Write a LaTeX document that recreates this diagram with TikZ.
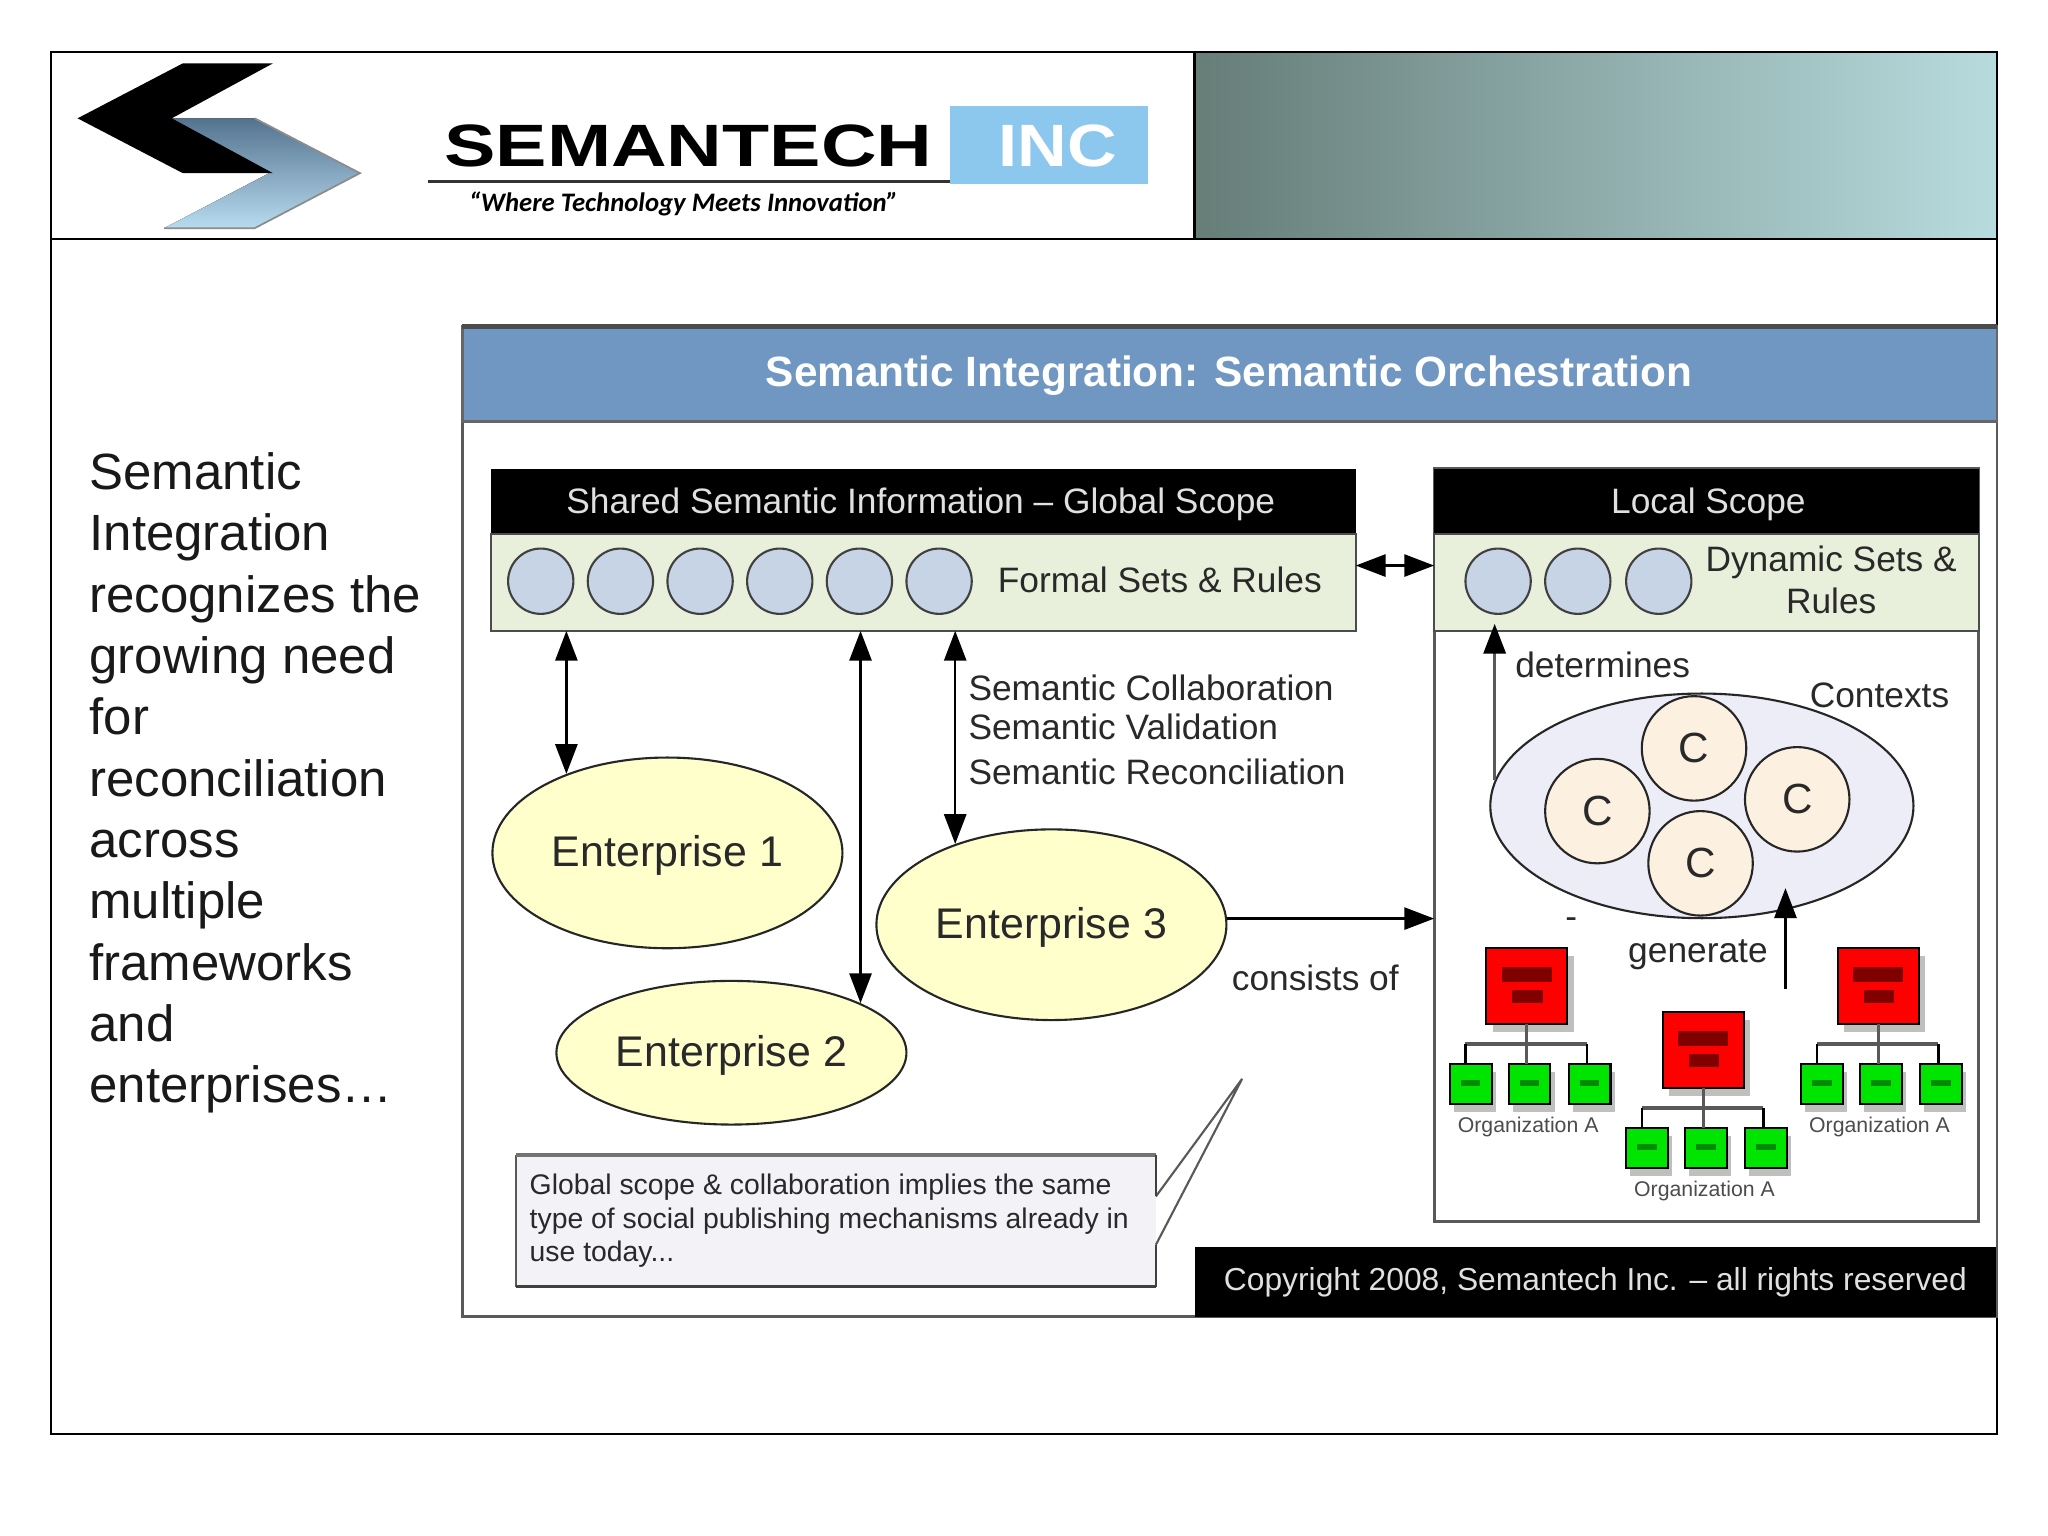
\documentclass[tikz,border=0pt]{standalone}
\usepackage{fontspec}
\setmainfont{Liberation Sans}
\newfontfamily\logofont[FakeStretch=1.29]{Liberation Sans}
\newfontfamily\incfont[FakeStretch=1.15]{Liberation Sans}
\newfontfamily\tagfont{Carlito}
\usetikzlibrary{arrows.meta}
\usetikzlibrary{shadows}
\usetikzlibrary{shapes.geometric}
\def\un{0.013061cm}
\definecolor{titleblue}{rgb}{0.44,0.59,0.76}
\definecolor{stripgreen}{rgb}{0.91,0.94,0.86}
\definecolor{circleblue}{rgb}{0.78,0.83,0.90}
\definecolor{entyellow}{rgb}{1,1,0.80}
\definecolor{ctxlilac}{rgb}{0.93,0.93,0.97}
\definecolor{ctxpeach}{rgb}{0.99,0.94,0.88}
\definecolor{notegray}{rgb}{0.95,0.95,0.97}
\definecolor{txtgray}{rgb}{0.16,0.16,0.16}
\definecolor{bannerl}{rgb}{0.40,0.49,0.47}
\definecolor{bannerm}{rgb}{0.55,0.65,0.67}
\definecolor{bannerr}{rgb}{0.72,0.86,0.87}
\definecolor{logodark}{rgb}{0.33,0.45,0.56}
\definecolor{logolight}{rgb}{0.72,0.86,0.94}
\definecolor{incblue}{rgb}{0.55,0.78,0.93}
\tikzset{
  plainbox/.style={rectangle,inner sep=0pt,outer sep=0pt},
  blackbar/.style={plainbox,fill=black,text=white!88!black,text depth=0pt,font=\fontsize{10.05}{11}\selectfont},
  stripbox/.style={plainbox,fill=stripgreen,draw=black!70,line width=0.7pt},
  setcircle/.style={circle,draw=black!75,fill=circleblue,line width=0.6pt,minimum size=50*\un,inner sep=0pt},
  entnode/.style={ellipse,draw=black!85,fill=entyellow,line width=0.6pt,minimum width=268*\un,inner sep=0pt,text=txtgray,text depth=0.1em,font=\fontsize{12.2}{14}\selectfont},
  ctxnode/.style={circle,draw=black!85,fill=ctxpeach,line width=0.6pt,minimum size=80*\un,inner sep=0pt,text=txtgray,font=\fontsize{12}{14}\selectfont},
  label/.style={inner sep=0pt,text=txtgray,font=\fontsize{10.05}{11.5}\selectfont},
  redbox/.style={plainbox,fill=red,draw=black,line width=0.6pt,minimum width=62*\un,minimum height=58*\un,
    drop shadow={shadow xshift=1.8pt,shadow yshift=-2.3pt,fill=black!25,opacity=1}},
  greenbox/.style={plainbox,fill=green!90!black,draw=black,line width=0.6pt,minimum width=32*\un,minimum height=31*\un,
    drop shadow={shadow xshift=1.2pt,shadow yshift=-2.3pt,fill=black!25,opacity=1}},
  orglabel/.style={inner sep=0pt,text=black!70,font=\fontsize{6.05}{7}\selectfont},
  link/.style={line width=0.7pt,<->},
  >={Triangle[length=8.5pt,width=6.3pt]}
}
\begin{document}
\begin{tikzpicture}[x=0.013061cm,y=-0.013061cm]
  \useasboundingbox (0,0) rectangle (1568,1176);
  \fill[white] (0,0) rectangle (1568,1176);

  % slide frame and banner
  \fill[left color=bannerl,middle color=bannerm,right color=bannerr] (915,40) rectangle (1529,183);
  \node[plainbox,draw=black,line width=0.7pt,minimum width=1490*\un,minimum height=1058*\un] (slide) at (784,569) {};
  \draw[line width=0.7pt] (39,183) -- (1529,183);
  \draw[line width=0.7pt] (914.5,40) -- (914.5,183);

  % logo
  \fill[top color=logodark,bottom color=logolight] (131.5,90.6) -- (195,90.6) -- (275.6,132.6) -- (195,174.7) -- (125.7,174.7) -- (206,132.6) -- cycle;
  \draw[black!45,line width=0.5pt] (195,90.6) -- (275.6,132.6) -- (195,174.7) -- (125.7,174.7);
  \fill[black] (140,48.5) -- (209,48.5) -- (131.5,90.6) -- (209,132.6) -- (140,132.6) -- (59.4,90.6) -- cycle;
  \node[inner sep=0pt] (brand) at (527,112) {\logofont\bfseries\fontsize{17}{20}\selectfont SEMANTECH};
  \node[plainbox,fill=incblue,minimum width=152*\un,minimum height=60*\un] (inc) at (803,111) {};
  \node[inner sep=0pt,text=white,font=\incfont\bfseries\fontsize{17}{20}\selectfont] (inctext) at (810,112) {INC};
  \draw[black!80,line width=0.7pt] (328,139) -- (inc.west |- 328,139);
  \node[inner sep=0pt,font=\tagfont\itshape\bfseries\fontsize{7.6}{9}\selectfont] (tagline) at (523.5,156) {“Where Technology Meets Innovation”};

  % left text
  \node[inner sep=0pt,anchor=north west,align=left,font=\fontsize{14.5}{17.45}\selectfont,text=black!90] (intro) at (68,346) {Semantic\\Integration\\recognizes the\\growing need\\for\\reconciliation\\across\\multiple\\frameworks\\and\\enterprises…};

  % panel
  \node[plainbox,draw=black!65,line width=0.8pt,minimum width=1175*\un,minimum height=758*\un] (panel) at (941.5,629) {};
  \node[plainbox,fill=titleblue,draw=black!60,line width=0.8pt,minimum width=1175*\un,minimum height=73*\un] (title) at (941.5,286.5) {};
  \node[inner sep=0pt,text=white,text depth=0pt,font=\bfseries\fontsize{12.05}{14}\selectfont] (titletext) at (941,284.5) {Semantic Integration: Semantic Orchestration};
  \draw[black!70,line width=1.2pt] (title.north west) -- (title.north east);
  \node[plainbox,fill=black,minimum width=613*\un,minimum height=53*\un,text=white!88!black,font=\fontsize{9.04}{11}\selectfont] (copyright) at (1221.5,981.5) {Copyright 2008, Semantech Inc. – all rights reserved};

  % global scope
  \node[blackbar,minimum width=662*\un,minimum height=50*\un] (globalhead) at (707,384) {};
  \node[inner sep=0pt,text=white!88!black,text depth=0pt,font=\fontsize{10.05}{11}\selectfont] (globaltext) at (705,383.5) {Shared Semantic Information – Global Scope};
  \node[stripbox,minimum width=662*\un,minimum height=74*\un] (formal) at (707,446) {};
  \foreach \cx in {414,475,536,597,658,719}
    \node[setcircle] (s\cx) at (\cx,445) {};
  \node[label] (formaltext) at (888,444) {Formal Sets \& Rules};

  % local scope
  \node[plainbox,draw=black!65,line width=0.8pt,minimum width=417*\un,minimum height=576*\un] (localbox) at (1306.5,647) {};
  \node[blackbar,minimum width=417*\un,minimum height=50*\un] (localhead) at (1306.5,384) {};
  \node[inner sep=0pt,text=white!88!black,text depth=0pt,font=\fontsize{10.05}{11}\selectfont] (localtext) at (1308,383.5) {Local Scope};
  \node[stripbox,minimum width=417*\un,minimum height=74*\un] (dynamic) at (1306.5,446) {};
  \foreach \cx in {1147,1208,1270}
    \node[setcircle] (d\cx) at (\cx,445) {};
  \node[label,align=center,font=\fontsize{10.05}{11.9}\selectfont] (dyntext) at (1402,444) {Dynamic Sets \&\\Rules};

  % enterprises
  \node[entnode,minimum height=146*\un] (ent1) at (511,653) {Enterprise 1};
  \node[entnode,minimum height=110*\un] (ent2) at (560,806) {Enterprise 2};
  \node[entnode,minimum height=146*\un] (ent3) at (805,708) {Enterprise 3};

  \draw[link] (formal.south -| ent1.142) -- (ent1.142);
  \draw[link] (formal.south -| ent2.21) -- (ent2.21);
  \draw[link] (formal.south -| ent3.140) -- (ent3.140);
  \draw[link] (formal.east |- 0,433) -- (dynamic.west |- 0,433);
  \draw[line width=0.7pt,->] (ent3.2) -- (ent3.2 -| localbox.west);

  \node[label,anchor=west] (collab) at (741,527) {Semantic Collaboration};
  \node[label,anchor=west] (valid) at (741,556.5) {Semantic Validation};
  \node[label,anchor=west] (recon) at (741,591) {Semantic Reconciliation};
  \node[label] (consists) at (1007,749) {consists of};

  % contexts
  \node[ellipse,draw=black!85,fill=ctxlilac,line width=0.6pt,minimum width=324*\un,minimum height=172*\un,inner sep=0pt] (ctx) at (1303,617) {};
  \node[ctxnode] (c1) at (1297,573) {C};
  \node[ctxnode] (c2) at (1223,621) {C};
  \node[ctxnode] (c3) at (1376,612) {C};
  \node[ctxnode] (c4) at (1302,661) {C};
  \draw[line width=0.9pt,black!65,-{Triangle[length=8.5pt,width=6.3pt,black]},shorten >=-2pt] (ctx.173) -- (ctx.173 |- dynamic.south);
  \coordinate (genstart) at (1367,757);
  \coordinate (genend) at (1367,680);
  \draw[line width=0.7pt,->] (genstart) -- (genend);
  \node[label] (determines) at (1227,509) {determines};
  \node[label] (contexts) at (1439,532) {Contexts};
  \node[label] (generate) at (1300,731) {generate};
  \node[label] (dash) at (1203,707) {-};

  % organizations
  \foreach \cname/\dx/\dy in {orga/0/0,orgb/135/49,orgc/269/0} {
    \begin{scope}[shift={(\dx,\dy)}]
      \node[redbox] (\cname-top) at (1169,755) {};
      \node[plainbox,fill=red!50!black,minimum width=38*\un,minimum height=12*\un] (\cname-b1) at (1169,746) {};
      \node[plainbox,fill=red!50!black,minimum width=23*\un,minimum height=10*\un] (\cname-b2) at (1169.5,763) {};
      \foreach \i/\gx in {1/1126,2/1171,3/1217} {
        \node[greenbox] (\cname-g\i) at (\gx,830) {};
        \node[plainbox,fill=green!55!black,minimum width=15*\un,minimum height=5*\un] (\cname-m\i) at (\gx,829) {};
      }
      \coordinate (\cname-l) at (1122,799);
      \coordinate (\cname-r) at (1215,799);
      \draw[line width=1.1pt,black!65] (\cname-l) -- (\cname-r);
      \draw[line width=0.9pt,black!65] (\cname-top.south) -- (\cname-top.south |- \cname-g2.north);
      \draw[line width=0.7pt] (\cname-l) -- (\cname-l |- \cname-g1.north);
      \draw[line width=0.7pt] (\cname-r) -- (\cname-r |- \cname-g3.north);
      \node[orglabel] (\cname-name) at (1170,863) {Organization A};
    \end{scope}
  }

  % note
  \fill[notegray] (395,884) rectangle (885,985);
  \draw[black!65,line width=0.6pt] (885,916) -- (951,826) -- (885,953);
  \draw[black!65,line width=0.6pt] (395,884) -- (395,985);
  \draw[black!55,line width=1.1pt] (395,884) -- (885,884);
  \draw[black!75,line width=0.8pt] (395,985) -- (885,985);
  \draw[black!75,line width=0.6pt] (885,884) -- (885,916) (885,953) -- (885,985);
  \node[inner sep=0pt,anchor=north west,align=left,text=txtgray,font=\fontsize{8.07}{9.65}\selectfont] (notetext) at (405,898) {Global scope \& collaboration implies the same\\type of social publishing mechanisms already in\\use today...};
\end{tikzpicture}
\end{document}
